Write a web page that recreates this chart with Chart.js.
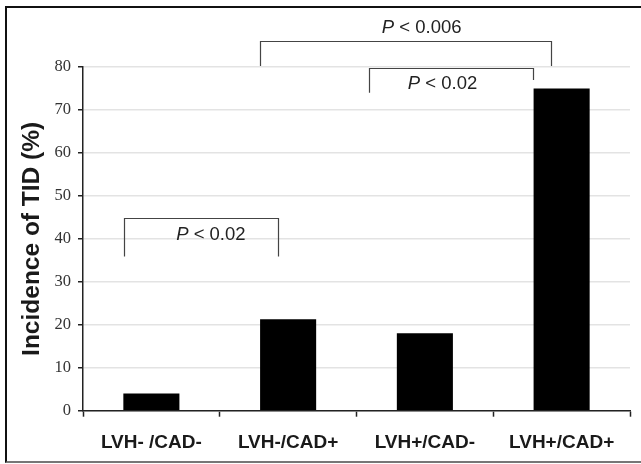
<!DOCTYPE html>
<html>
<head>
<meta charset="utf-8">
<script src="https://cdn.jsdelivr.net/npm/chart.js@4"></script>
<style>
  html, body { margin: 0; padding: 0; background: #fff; }
  #wrap { position: relative; width: 641px; height: 464px; overflow: hidden; }
  #frame {
    position: absolute; left: 5px; top: 6px; width: 700px; height: 453px;
    border: 2px solid #111; border-bottom-color: #777; pointer-events: none;
  }
</style>
</head>
<body>
<div id="wrap">
  <canvas id="c" width="641" height="464"></canvas>
  <div id="frame"></div>
</div>
<script>
const groups = ["LVH- /CAD-", "LVH-/CAD+", "LVH+/CAD-", "LVH+/CAD+"];
const incidence = [4, 21.3, 18, 75];
const yTicks = [0, 10, 20, 30, 40, 50, 60, 70, 80];

// significance brackets, in category index / percent units
const bracketFrom = [-0.2, 0.797, 1.594];
const bracketTo = [0.928, 2.922, 2.789];
const bracketLevel = [44.87, 86.06, 79.86];
const bracketLegFrom = [35.9, 80.23, 74.03];
const bracketLegTo = [35.9, 80.23, 76.97];
const pLabels = ["0.02", "0.006", "0.02"];
const pLabelX = [0.435, 1.977, 2.129];
const pLabelY = [40.98, 89.19, 75.97];

const brackets = {
  id: "brackets",
  afterDatasetsDraw(chart) {
    const { ctx, scales: { x, y } } = chart;
    ctx.save();
    ctx.strokeStyle = "#444";
    ctx.lineWidth = 1.2;
    bracketFrom.forEach((from, i) => {
      const x1 = Math.round(x.getPixelForValue(from)) + 0.5;
      const x2 = Math.round(x.getPixelForValue(bracketTo[i])) + 0.5;
      const yl = Math.round(y.getPixelForValue(bracketLevel[i])) + 0.5;
      ctx.beginPath();
      ctx.moveTo(x1, y.getPixelForValue(bracketLegFrom[i]));
      ctx.lineTo(x1, yl);
      ctx.lineTo(x2, yl);
      ctx.lineTo(x2, y.getPixelForValue(bracketLegTo[i]));
      ctx.stroke();
    });

    ctx.fillStyle = "#222";
    ctx.textBaseline = "middle";
    ctx.textAlign = "left";
    const italic = "italic 18.5px 'Liberation Sans', Arial, sans-serif";
    const normal = "18.5px 'Liberation Sans', Arial, sans-serif";
    pLabels.forEach((val, i) => {
      const rest = " < " + val;
      ctx.font = italic;
      const wP = ctx.measureText("P").width;
      ctx.font = normal;
      const wR = ctx.measureText(rest).width;
      const cx = x.getPixelForValue(pLabelX[i]);
      const cy = y.getPixelForValue(pLabelY[i]);
      const left = cx - (wP + wR) / 2;
      ctx.font = italic;
      ctx.fillText("P", left, cy);
      ctx.font = normal;
      ctx.fillText(rest, left + wP, cy);
    });
    ctx.restore();
  },
};

new Chart(document.getElementById("c"), {
  type: "bar",
  data: {
    labels: groups,
    datasets: [{
      data: incidence,
      backgroundColor: "#000",
      borderWidth: 0,
      barPercentage: 0.41,
      categoryPercentage: 1,
    }],
  },
  options: {
    responsive: false,
    animation: false,
    events: [],
    layout: { padding: { top: 67, right: 11, bottom: 0, left: 0 } },
    plugins: { legend: { display: false }, tooltip: { enabled: false } },
    scales: {
      x: {
        afterFit: (s) => { s.height = 53.3; },
        border: { color: "#222", width: 1.5 },
        grid: { offset: true, drawOnChartArea: false, tickLength: 6, tickColor: "#222", tickWidth: 1.5 },
        ticks: {
          padding: 15,
          color: "#1a1a1a",
          font: { family: "'Liberation Sans', Arial, sans-serif", size: 19, weight: "bold" },
        },
      },
      y: {
        min: 0,
        max: 80,
        afterFit: (s) => { s.width = 83; },
        afterBuildTicks: (s) => { s.ticks = yTicks.map((v) => ({ value: v })); },
        border: { color: "#222", width: 1.5 },
        grid: { color: "#e3e3e3", lineWidth: 1.5, tickLength: 5, tickColor: "#222", tickWidth: 1.5 },
        ticks: {
          padding: 7,
          color: "#333",
          font: { family: "'Liberation Serif', 'Times New Roman', serif", size: 16.5 },
        },
        title: {
          display: true,
          text: "Incidence of TID (%)",
          color: "#1a1a1a",
          padding: { top: 18, bottom: 0 },
          font: { family: "'Liberation Sans', Arial, sans-serif", size: 24.5, weight: "bold" },
        },
      },
    },
  },
  plugins: [brackets],
});
</script>
</body>
</html>
